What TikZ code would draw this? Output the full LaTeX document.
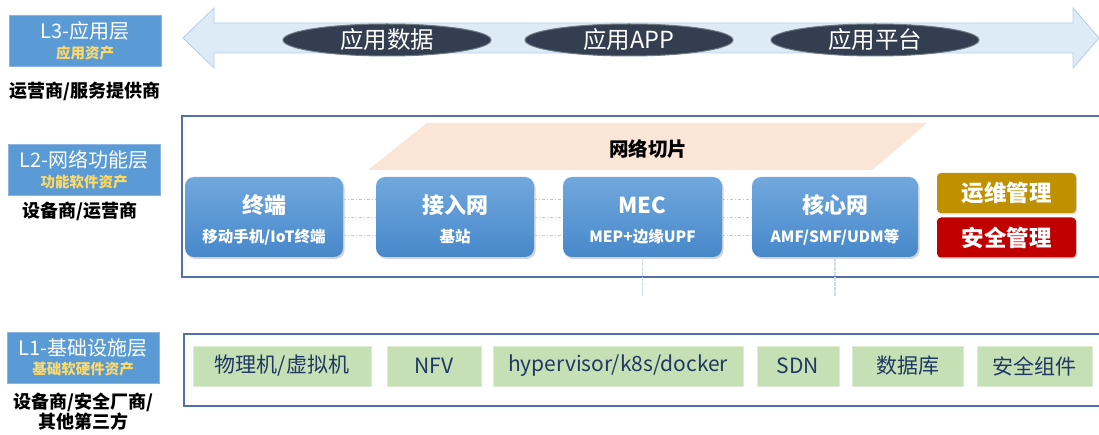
\documentclass[tikz,border=0pt]{standalone}
\usepackage{fontspec}
\setmainfont{Noto Sans CJK SC}
\usetikzlibrary{shapes.geometric,shadows,calc}
\definecolor{lboxc}{HTML}{5B9BD5}
\definecolor{lboxb}{HTML}{8DB4E2}
\definecolor{subyel}{HTML}{FFD966}
\definecolor{arrowf}{HTML}{DDEBF7}
\definecolor{arrowd}{HTML}{B4CCE8}
\definecolor{ellc}{HTML}{333F50}
\definecolor{framec}{HTML}{5271AB}
\definecolor{slicec}{HTML}{FBE5D6}
\definecolor{btop}{HTML}{71A8DE}
\definecolor{bbot}{HTML}{4788CA}
\definecolor{opsc}{HTML}{BF9000}
\definecolor{secc}{HTML}{C00000}
\definecolor{greenc}{HTML}{C5E0B4}
\definecolor{greend}{HTML}{DCEBD2}
\definecolor{navy}{HTML}{1F3864}
\definecolor{vline}{HTML}{D0D8EE}
\tikzset{
  lbox/.style={rectangle, fill=lboxc, draw=lboxb, line width=0.8pt, minimum width=152pt, minimum height=51pt, inner sep=0pt},
  ltitle/.style={text=white, font=\fontsize{20}{23}\selectfont, inner sep=0pt},
  lsub/.style={text=subyel, font=\fontsize{14.5}{16}\selectfont\bfseries, inner sep=0pt},
  role/.style={text=black, font=\fontsize{18}{21}\selectfont\bfseries, inner sep=0pt},
  ell/.style={ellipse, fill=ellc, draw=ellc!70, line width=1pt, minimum width=208pt, minimum height=32pt, inner sep=0pt, text=white, font=\fontsize{23.5}{26}\selectfont},
  frame/.style={draw=framec, line width=1.3pt},
  bluebox/.style={rectangle, rounded corners=9pt, top color=btop, bottom color=bbot, draw=none, minimum height=80pt, inner sep=0pt, drop shadow={opacity=0.35, shadow xshift=1.5pt, shadow yshift=-2pt}},
  btitle/.style={text=white, font=\fontsize{22}{25}\selectfont\bfseries, inner sep=0pt},
  bsub/.style={text=white, font=\fontsize{15.5}{18}\selectfont\bfseries, inner sep=0pt},
  mgmt/.style={rectangle, rounded corners=4pt, minimum width=139pt, minimum height=40pt, inner sep=0pt, text=white, font=\fontsize{22.5}{25}\selectfont\bfseries, drop shadow={opacity=0.3, shadow xshift=1pt, shadow yshift=-1.5pt}},
  gbox/.style={rectangle, fill=greenc, draw=greend, line width=0.8pt, minimum height=40pt, inner sep=0pt, text=navy, font=\fontsize{21}{24}\selectfont},
  dotl/.style={draw=gray!45, line width=0.6pt, dash pattern=on 3pt off 2pt on 1pt off 2pt},
  vl/.style={draw=vline, line width=1.2pt, dash pattern=on 4pt off 1pt}
}
\begin{document}
\begin{tikzpicture}[x=1pt,y=-1pt]
\useasboundingbox (0,0) rectangle (1099,435);

% ---------- L3 ----------
\node[lbox] (l3) at (85,40.5) {};
\node[ltitle] (l3t) at (85,31) {L3-应用层};
\node[lsub] (l3s) at (85,53) {应用资产};
\node[role] (r3) at (85,91) {运营商/服务提供商};

\path[fill=arrowf, draw=arrowd, line width=0.8pt]
  (183,38) -- (214,8) -- (214,23) -- (1073,23) -- (1073,8) -- (1099,38)
  -- (1073,68) -- (1073,53) -- (214,53) -- (214,68) -- cycle;
\node[ell] (e1) at (387,40) {应用数据};
\node[ell] (e2) at (629,40) {应用APP};
\node[ell] (e3) at (875,40) {应用平台};

% ---------- L2 ----------
\node[lbox] (l2) at (84,169.5) {};
\node[ltitle] (l2t) at (84,160) {L2-网络功能层};
\node[lsub] (l2s) at (84,182) {功能软件资产};
\node[role] (r2) at (80,211) {设备商/运营商};

\draw[frame] (1105,116) -- (182,116) -- (182,277) -- (1105,277);
\path[fill=slicec] (368,170) -- (427,123) -- (927,123) -- (872,170) -- cycle;
\node[text=black, font=\fontsize{19.5}{22}\selectfont\bfseries, inner sep=0pt] (slice) at (648,149) {网络切片};

\node[bluebox, minimum width=158pt] (term) at (264,217) {};
\node[bluebox, minimum width=158pt] (acc) at (455,217) {};
\node[bluebox, minimum width=159pt] (mec) at (642.5,217) {};
\node[bluebox, minimum width=166pt] (core) at (835,217) {};

\foreach \a/\b in {term/acc, acc/mec, mec/core}{
  \draw[dotl] ([yshift=18pt]\a.east) -- ([yshift=18pt]\b.west);
  \draw[dotl] (\a.east) -- (\b.west);
  \draw[dotl] ([yshift=-18pt]\a.east) -- ([yshift=-18pt]\b.west);
}

\node[btitle] at ($(term.center)+(0,-12)$) {终端};
\node[bsub] at ($(term.center)+(0,20)$) {移动手机/IoT终端};
\node[btitle] at ($(acc.center)+(0,-12)$) {接入网};
\node[bsub] at ($(acc.center)+(0,20)$) {基站};
\node[btitle] at ($(mec.center)+(0,-12)$) {MEC};
\node[bsub] at ($(mec.center)+(0,20)$) {MEP+边缘UPF};
\node[btitle] at ($(core.center)+(0,-12)$) {核心网};
\node[bsub] at ($(core.center)+(0,20)$) {AMF/SMF/UDM等};

\node[mgmt, fill=opsc] (ops) at (1006.5,193) {运维管理};
\node[mgmt, fill=secc] (sec) at (1006.5,237.5) {安全管理};

\coordinate (mecd) at (642.5,297);
\coordinate (cored) at (835,297);
\draw[vl] (mec.south) -- (mecd);
\draw[vl] (core.south) -- (cored);

% ---------- L1 ----------
\node[lbox] (l1) at (83,357.5) {};
\node[ltitle] (l1t) at (83,348) {L1-基础设施层};
\node[lsub] (l1s) at (83,369) {基础软硬件资产};
\node[role] (r1a) at (83,402) {设备商/安全厂商/};
\node[role] (r1b) at (83,422) {其他第三方};

\draw[frame] (1105,334) -- (184,334) -- (184,406) -- (1105,406);
\node[gbox, minimum width=178pt] (g1) at (282,366) {物理机/虚拟机};
\node[gbox, minimum width=94pt] (g2) at (434,366) {NFV};
\node[gbox, minimum width=250pt] (g3) at (618,366) {hypervisor/k8s/docker};
\node[gbox, minimum width=82pt] (g4) at (798,366) {SDN};
\node[gbox, minimum width=111pt] (g5) at (907.5,366) {数据库};
\node[gbox, minimum width=115pt] (g6) at (1034.5,366) {安全组件};
\end{tikzpicture}
\end{document}
